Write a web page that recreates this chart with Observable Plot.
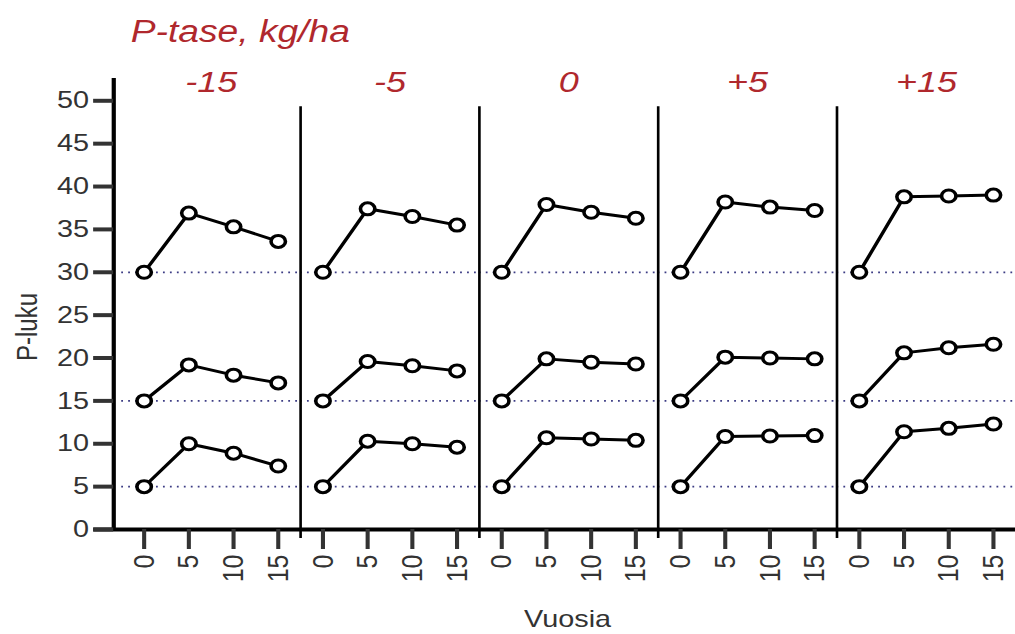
<!DOCTYPE html>
<html>
<head>
<meta charset="utf-8">
<script src="https://cdn.jsdelivr.net/npm/d3@7"></script>
<script src="https://cdn.jsdelivr.net/npm/@observablehq/plot@0.6"></script>
<style>
  html, body { margin: 0; padding: 0; background: #fff; overflow: hidden; }
  #wrap { position: relative; width: 846px; height: 634px; transform: scaleX(1.2); transform-origin: 0 0;
          font-family: "Liberation Sans", Arial, Helvetica, sans-serif; }
  #title { position: absolute; left: 109px; top: 16px; font-size: 31px; line-height: 1; font-style: italic; color: #b0282d; white-space: nowrap; }
  #chart { position: absolute; left: 0; top: 58px; }
  #xlab { position: absolute; left: 100px; width: 746px; top: 607px; font-size: 24px; line-height: 1; text-align: center; color: #333; }
  #ylab { position: absolute; left: 23px; top: 327px; font-size: 24px; line-height: 1; color: #333; white-space: nowrap;
          transform: translate(-50%, -50%) rotate(-90deg); }
</style>
</head>
<body>
<div id="wrap">
  <div id="title">P-tase, kg/ha</div>
  <div id="chart"></div>
  <div id="ylab">P-luku</div>
  <div id="xlab">Vuosia</div>
</div>
<script>
// Facets (P balance, kg/ha) and years
const facets = ["-15", "-5", "0", "+5", "+15"];
const years = [0, 5, 10, 15];
const yTicks = [0, 5, 10, 15, 20, 25, 30, 35, 40, 45, 50];
const refLevels = [5, 15, 30];

// P-luku values per facet (rows follow facets), each row over years 0,5,10,15
const start30 = [
  [30, 36.9, 35.3, 33.6],
  [30, 37.4, 36.5, 35.5],
  [30, 37.9, 37.0, 36.3],
  [30, 38.2, 37.6, 37.2],
  [30, 38.8, 38.9, 39.0]
];
const start15 = [
  [15, 19.2, 18.0, 17.1],
  [15, 19.6, 19.1, 18.5],
  [15, 19.9, 19.5, 19.3],
  [15, 20.1, 20.0, 19.9],
  [15, 20.6, 21.2, 21.6]
];
const start5 = [
  [5, 10.0, 8.9, 7.4],
  [5, 10.3, 10.0, 9.6],
  [5, 10.7, 10.55, 10.4],
  [5, 10.85, 10.9, 10.95],
  [5, 11.4, 11.8, 12.3]
];

const xDomain = [-2.5, 17.5];
const yDomain = [0, 52.6];
const dividerTop = 49.3;

const rows = [];
facets.forEach((f, i) => {
  [["5", start5], ["15", start15], ["30", start30]].forEach(([name, ser]) => {
    ser[i].forEach((v, j) => rows.push({facet: f, series: name, year: years[j], value: v}));
  });
});

const red = "#b0282d";

const chart = Plot.plot({
  width: 846,
  height: 541,
  marginLeft: 100,
  marginRight: 0,
  marginTop: 20,
  marginBottom: 70,
  style: {fontFamily: '"Liberation Sans", Arial, Helvetica, sans-serif', background: "white", overflow: "visible"},
  fx: {domain: facets, padding: 0, axis: null},
  x: {domain: xDomain, axis: null},
  y: {domain: yDomain, axis: null},
  marks: [
    // dotted reference lines
    Plot.ruleY(refLevels, {y: d => d, stroke: "#3c3c84", strokeWidth: 1.7, strokeDasharray: "1.5,4.3"}),
    // panel dividers
    Plot.ruleX(facets.slice(1), {fx: d => d, x: () => xDomain[0], y1: () => dividerTop, y2: () => 0, stroke: "black", strokeWidth: 2.2, insetBottom: -9}),
    // y axis line (offset left of the first panel)
    Plot.ruleX([facets[0]], {fx: d => d, x: () => xDomain[0], y1: () => yDomain[1], y2: () => 0, stroke: "black", strokeWidth: 3.5, dx: -6.7, insetBottom: -1.5}),
    // x axis line
    Plot.ruleY(facets.slice(1), {fx: d => d, y: () => 0, stroke: "black", strokeWidth: 4}),
    Plot.ruleY([facets[0]], {fx: d => d, y: () => 0, stroke: "black", strokeWidth: 4, insetLeft: -23.3}),
    Plot.axisY(yTicks, {anchor: "left", dx: -6.7, tickSize: 16.7, tickPadding: 4, strokeWidth: 4, fontSize: 24, color: "#333", label: null}),
    Plot.axisX(years, {anchor: "bottom", tickSize: 20, tickPadding: 5, tickRotate: -90, strokeWidth: 3.4, fontSize: 25, color: "#333", label: null}),
    // facet labels
    Plot.text(facets, {fx: d => d, text: d => d, frameAnchor: "top", lineAnchor: "bottom", dy: 13, fontSize: 30, fontStyle: "italic", fill: red}),
    // series
    Plot.line(rows, {fx: "facet", x: "year", y: "value", z: "series", stroke: "black", strokeWidth: 3}),
    Plot.dot(rows, {fx: "facet", x: "year", y: "value", r: 6, stroke: "black", strokeWidth: 3, fill: "white"})
  ]
});
document.getElementById("chart").appendChild(chart);
</script>
</body>
</html>
